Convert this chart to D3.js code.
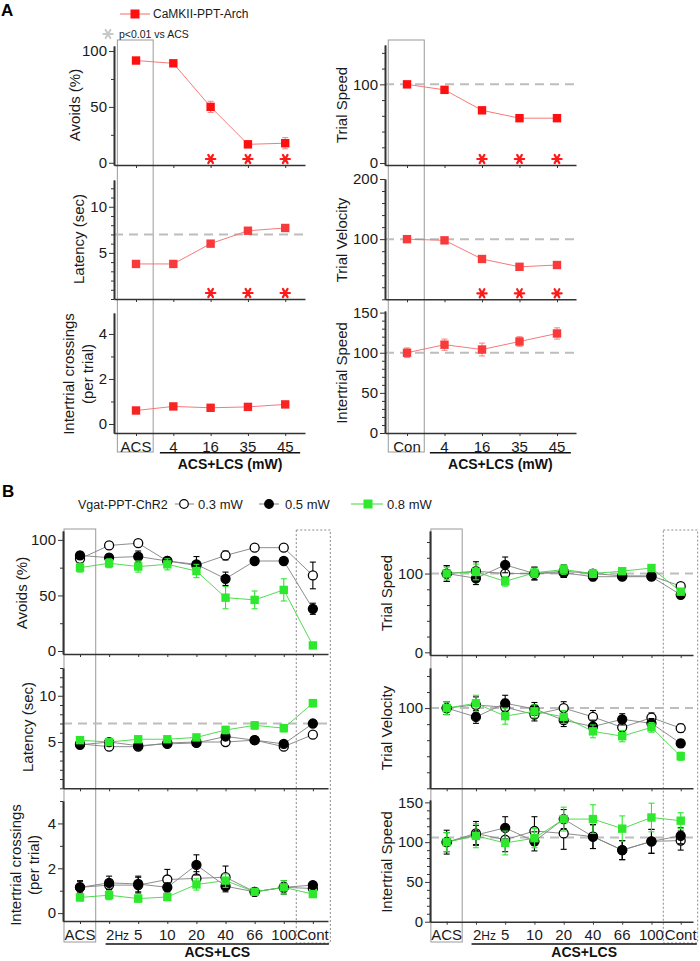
<!DOCTYPE html>
<html><head><meta charset="utf-8">
<script src="https://cdn.jsdelivr.net/npm/d3@7"></script>
<style>body{margin:0;background:#fff}</style>
</head><body>
<svg id="c" width="700" height="961"></svg>
<script>
// ---------------- DATA ----------------
const catsA = ["ACS", "4", "16", "35", "45"];
const catsAR = ["Con", "4", "16", "35", "45"];
const catsB = ["ACS", "2Hz", "5", "10", "20", "40", "66", "100", "Cont"];

// Panel A (CaMKII-PPT-Arch)
const avoidsA = [91.5, 89, 50, 16.5, 17.5];
const avoidsAErr = [2, 2, 5, 3, 5];
const latencyA = [3.8, 3.8, 6.0, 7.4, 7.7];
const latencyAErr = [0.2, 0.2, 0.3, 0.3, 0.3];
const crossA = [0.6, 0.78, 0.72, 0.76, 0.87];
const crossAErr = [0.08, 0.08, 0.08, 0.08, 0.1];
const tspeedA = [100, 93, 67, 57, 57];
const tspeedAErr = [2, 3, 3, 3, 3];
const tvelA = [100, 98, 67, 54, 57];
const tvelAErr = [2, 3, 3, 3, 3];
const ispeedA = [100, 110, 104, 114, 124];
const ispeedAErr = [6, 7, 8, 6, 7];
const sigA = [0, 0, 1, 1, 1];

// Panel B (Vgat-PPT-ChR2) : 0.3 mW, 0.5 mW, 0.8 mW
const avoidsB03 = [83, 95, 97, 81, 77, 86, 93, 93, 68];
const avoidsB03Err = [3, 3, 3, 3, 3, 4, 2, 2, 12];
const avoidsB05 = [86, 84, 85, 81, 78, 65, 81, 81, 38];
const avoidsB05Err = [3, 3, 5, 3, 7, 6, 3, 3, 5];
const avoidsB08 = [75, 79, 76, 78, 72, 48, 46, 55, 5];
const avoidsB08Err = [4, 4, 5, 5, 6, 10, 8, 10, 2];

const latencyB03 = [4.8, 4.5, 4.5, 4.9, 5.0, 5.0, 5.2, 4.5, 5.8];
const latencyB03Err = [0.2, 0.3, 0.3, 0.2, 0.2, 0.3, 0.2, 0.2, 0.3];
const latencyB05 = [4.7, 5.0, 4.6, 4.8, 4.9, 5.6, 5.2, 4.8, 7.0];
const latencyB05Err = [0.2, 0.3, 0.3, 0.2, 0.2, 0.3, 0.3, 0.2, 0.3];
const latencyB08 = [5.2, 5.0, 5.3, 5.3, 5.5, 6.3, 6.8, 6.5, 9.2];
const latencyB08Err = [0.2, 0.2, 0.3, 0.3, 0.3, 0.4, 0.4, 0.4, 0.4];

const crossB03 = [1.15, 1.25, 1.25, 1.5, 1.55, 1.6, 0.95, 1.15, 1.1];
const crossB03Err = [0.25, 0.2, 0.35, 0.45, 0.3, 0.5, 0.1, 0.3, 0.15];
const crossB05 = [1.15, 1.35, 1.3, 1.15, 2.15, 1.2, 0.95, 1.15, 1.25];
const crossB05Err = [0.3, 0.3, 0.35, 0.2, 0.45, 0.25, 0.1, 0.2, 0.15];
const crossB08 = [0.7, 0.8, 0.65, 0.72, 1.28, 1.45, 0.95, 1.15, 0.85];
const crossB08Err = [0.15, 0.2, 0.15, 0.15, 0.25, 0.3, 0.1, 0.3, 0.15];

const tspeedB03 = [100, 103, 100, 100, 103, 100, 97, 97, 84];
const tspeedB03Err = [10, 12, 10, 8, 8, 5, 5, 5, 4];
const tspeedB05 = [100, 94, 111, 100, 101, 96, 96, 96, 73];
const tspeedB05Err = [10, 8, 10, 8, 6, 5, 4, 4, 4];
const tspeedB08 = [100, 102, 90, 101, 105, 100, 103, 107, 77];
const tspeedB08Err = [8, 10, 6, 6, 6, 5, 4, 4, 4];

const tvelB03 = [100, 104, 101, 92, 100, 89, 76, 88, 75];
const tvelB03Err = [8, 10, 10, 8, 8, 8, 7, 6, 5];
const tvelB05 = [100, 89, 106, 99, 85, 77, 86, 81, 56];
const tvelB05Err = [8, 8, 10, 8, 8, 8, 7, 6, 5];
const tvelB08 = [100, 106, 90, 96, 89, 71, 65, 76, 40];
const tvelB08Err = [8, 10, 10, 8, 8, 8, 7, 6, 5];

const ispeedB03 = [100, 111, 103, 114, 111, 107, 90, 101, 102];
const ispeedB03Err = [15, 15, 15, 18, 20, 15, 12, 15, 12];
const ispeedB05 = [100, 109, 118, 101, 129, 107, 90, 101, 108];
const ispeedB05Err = [12, 12, 14, 12, 12, 15, 12, 15, 10];
const ispeedB08 = [100, 108, 99, 105, 129, 129, 117, 131, 127];
const ispeedB08Err = [12, 15, 15, 12, 15, 18, 16, 18, 10];

// ---------------- DRAWING ----------------
const FONT = 'Arial, "Liberation Sans", sans-serif';
const svg = d3.select("#c").attr("font-family", FONT);
const AX = "#333";

const RED = "#ff1010", RED_LINE = "#f56a6a", RED_ERR = "#f78a8a";
const GREEN = "#2ee82e", GREEN_LINE = "#3fd63f";
const GRAY_LINE = "#808080";

const xAL = d3.scaleLinear().domain([-0.59, 4.53]).range([114, 305]);
const xAR = d3.scaleLinear().domain([-0.587, 4.507]).range([385, 576]);
const xBL = d3.scaleLinear().domain([-0.584, 8.52]).range([63, 328]);
const xBR = d3.scaleLinear().domain([-0.57, 8.42]).range([430, 693]);

const starPath = d3.symbol().type(d3.symbolAsterisk).size(62)();

function drawStar(cx, cy, color, sw) {
  svg.append("path").attr("d", starPath)
    .attr("transform", `translate(${cx},${cy}) rotate(90)`)
    .attr("fill", "none").attr("stroke", color).attr("stroke-width", sw || 2.2)
    .attr("stroke-linecap", "round");
}

function styleAxis(sel, fs) {
  sel.attr("font-family", FONT).attr("font-size", fs || 15);
  sel.selectAll(".domain").attr("stroke", AX).attr("stroke-width", 1.6);
  sel.selectAll(".tick line").attr("stroke", AX).attr("stroke-width", 1);
  sel.selectAll(".tick text").attr("fill", "#1a1a1a");
}

function subplot(o) {
  const g = svg.append("g");
  const x = o.x;
  const y = d3.scaleLinear().domain(o.domain).range([o.bottom, o.top]);
  const [xl, xr] = x.range();
  const n = o.n;

  if (o.dash != null) {
    g.append("line").attr("x1", xl).attr("x2", xr)
      .attr("y1", y(o.dash)).attr("y2", y(o.dash))
      .attr("stroke", "#bdbdbd").attr("stroke-width", 2).attr("stroke-dasharray", "9,6");
  }
  const [d0, d1] = o.domain;
  const minors = d3.range(Math.ceil(d0 / o.minor - 1e-9) * o.minor, d1 + 1e-9, o.minor)
    .filter(v => !o.major.some(m => Math.abs(m - v) < 1e-9));
  const gmin = g.append("g").attr("transform", `translate(${xl},0)`)
    .call(d3.axisLeft(y).tickValues(minors).tickSize(3).tickSizeOuter(0).tickFormat(""));
  styleAxis(gmin);
  const gmaj = g.append("g").attr("transform", `translate(${xl},0)`)
    .call(d3.axisLeft(y).tickValues(o.major).tickSize(5).tickSizeOuter(0).tickPadding(2).tickFormat(d3.format("~g")));
  styleAxis(gmaj);
  const gx = g.append("g").attr("transform", `translate(0,${o.bottom})`)
    .call(d3.axisBottom(x).tickValues(d3.range(n)).tickSize(3).tickSizeOuter(0).tickFormat(""));
  styleAxis(gx);

  o.label.forEach((t, k) => {
    g.append("text")
      .attr("transform", `translate(${o.labelX[k]},${o.labelY}) rotate(-90)`)
      .attr("text-anchor", "middle").attr("dy", "0.35em")
      .attr("font-size", 15).attr("fill", "#1a1a1a").text(t);
  });

  o.series.forEach(s => {
    const pts = s.vals.map((v, i) => ({ i, v, e: s.errs[i] }));
    g.append("path").datum(pts)
      .attr("d", d3.line().x(d => x(d.i)).y(d => y(d.v)))
      .attr("fill", "none").attr("stroke", s.line).attr("stroke-width", 0.9);
    const eb = g.append("g").attr("stroke", s.err).attr("stroke-width", 1.1);
    pts.forEach(d => {
      eb.append("line").attr("x1", x(d.i)).attr("x2", x(d.i)).attr("y1", y(d.v - d.e)).attr("y2", y(d.v + d.e));
      [d.v - d.e, d.v + d.e].forEach(vv => {
        eb.append("line").attr("x1", x(d.i) - 3).attr("x2", x(d.i) + 3).attr("y1", y(vv)).attr("y2", y(vv));
      });
    });
    pts.forEach(d => {
      if (s.shape === "square") {
        g.append("rect").attr("x", x(d.i) - 4.2).attr("y", y(d.v) - 4.2)
          .attr("width", 8.4).attr("height", 8.4).attr("fill", s.fill);
      } else {
        g.append("circle").attr("cx", x(d.i)).attr("cy", y(d.v)).attr("r", 4.5)
          .attr("fill", s.fill).attr("stroke", "#000").attr("stroke-width", 1.3);
      }
    });
  });

  if (o.sig) {
    o.sig.forEach((s, i) => { if (s) drawStar(x(i), o.bottom - 6, "#ff1a1a"); });
  }
  return { g, y };
}

function box(x, i0, i1, top, bottom, dotted) {
  svg.append("rect").attr("x", x(i0)).attr("y", top)
    .attr("width", x(i1) - x(i0)).attr("height", bottom - top)
    .attr("fill", "none").attr("stroke", dotted ? "#8a8a8a" : "#9a9a9a")
    .attr("stroke-width", 1).attr("stroke-dasharray", dotted ? "2,2" : null);
}

function xLabels(x, cats, baseline, underline, title, ulFrom, ulTo, titleBaseline) {
  cats.forEach((c, i) => {
    if (c === "2Hz") {
      const t = svg.append("text").attr("x", x(i) - 3).attr("y", baseline)
        .attr("font-size", 15).attr("fill", "#1a1a1a");
      t.append("tspan").text("2");
      t.append("tspan").attr("font-size", 12).text("Hz");
    } else {
      svg.append("text").attr("x", x(i)).attr("y", baseline).attr("text-anchor", "middle")
        .attr("font-size", 15).attr("fill", "#1a1a1a").text(c);
    }
  });
  svg.append("line").attr("x1", x(ulFrom)).attr("x2", x(ulTo)).attr("y1", underline).attr("y2", underline)
    .attr("stroke", "#111").attr("stroke-width", 1.6);
  svg.append("text").attr("x", (x(ulFrom) + x(ulTo)) / 2).attr("y", titleBaseline)
    .attr("text-anchor", "middle").attr("font-size", 14).attr("font-weight", "bold")
    .attr("fill", "#111").text(title);
}

// ---------- Panel A ----------
const redSeries = (vals, errs, fill) => [{ vals, errs, shape: "square", fill: fill || RED, line: RED_LINE, err: RED_ERR }];

box(xAL, -0.5, 0.46, 40, 452, false);
box(xAR, -0.5, 0.46, 40, 452, false);

subplot({ x: xAL, n: 5, top: 46, bottom: 165, domain: [-2, 104.5], major: [0, 50, 100], minor: 25,
  label: ["Avoids (%)"], labelX: [75], labelY: 105, series: redSeries(avoidsA, avoidsAErr), sig: sigA });
subplot({ x: xAL, n: 5, top: 180, bottom: 299, domain: [0, 12.9], major: [5, 10], minor: 1, dash: 7,
  label: ["Latency (sec)"], labelX: [79], labelY: 239, series: redSeries(latencyA, latencyAErr, "#f83a3a"), sig: sigA });
subplot({ x: xAL, n: 5, top: 313, bottom: 433, domain: [-0.4, 4.93], major: [0, 2, 4], minor: 1,
  label: ["Intertrial crossings", "(per trial)"], labelX: [69, 88], labelY: 374, series: redSeries(crossA, crossAErr, "#f82424") });

subplot({ x: xAR, n: 5, top: 45, bottom: 165, domain: [-2.5, 150], major: [0, 100], minor: 20, dash: 100,
  label: ["Trial Speed"], labelX: [342], labelY: 105, series: redSeries(tspeedA, tspeedAErr), sig: sigA });
subplot({ x: xAR, n: 5, top: 179, bottom: 299.3, domain: [0, 200], major: [100, 200], minor: 20, dash: 100,
  label: ["Trial Velocity"], labelX: [342], labelY: 240, series: redSeries(tvelA, tvelAErr, "#f83a3a"), sig: sigA });
subplot({ x: xAR, n: 5, top: 311, bottom: 433, domain: [0, 152], major: [0, 50, 100, 150], minor: 10, dash: 100,
  label: ["Intertrial Speed"], labelX: [342], labelY: 373, series: redSeries(ispeedA, ispeedAErr, "#f83a3a") });

xLabels(xAL, catsA, 451.5, 452.7, "ACS+LCS (mW)", 0.64, 4.4, 469);
xLabels(xAR, catsAR, 451.5, 452.7, "ACS+LCS (mW)", 0.61, 4.37, 469);

// Panel A legend
svg.append("text").attr("x", 1).attr("y", 16).attr("font-size", 17).attr("font-weight", "bold").text("A");
svg.append("line").attr("x1", 120).attr("x2", 150).attr("y1", 14).attr("y2", 14).attr("stroke", RED_LINE).attr("stroke-width", 1);
svg.append("rect").attr("x", 130.5).attr("y", 9.5).attr("width", 9).attr("height", 9).attr("fill", RED);
svg.append("text").attr("x", 153).attr("y", 18.2).attr("font-size", 12).attr("fill", "#1a1a1a").text("CaMKII-PPT-Arch");
drawStar(108, 34, "#c8c8c8", 2.0);
svg.append("text").attr("x", 119).attr("y", 37.5).attr("font-size", 10.5).attr("fill", "#1a1a1a").text("p<0.01 vs ACS");

// ---------- Panel B ----------
const bSeries = (a03, e03, a05, e05, a08, e08) => [
  { vals: a03, errs: e03, shape: "circle", fill: "#fff", line: GRAY_LINE, err: "#000" },
  { vals: a05, errs: e05, shape: "circle", fill: "#000", line: GRAY_LINE, err: "#000" },
  { vals: a08, errs: e08, shape: "square", fill: GREEN, line: GREEN_LINE, err: GREEN }
];

box(xBL, -0.55, 0.54, 529, 942, false);
box(xBL, 7.43, 8.6, 530, 943, true);
box(xBR, -0.54, 0.53, 529, 942, false);
box(xBR, 7.405, 8.58, 530, 943, true);

subplot({ x: xBL, n: 9, top: 531, bottom: 654, domain: [-2.7, 108], major: [0, 50, 100], minor: 25,
  label: ["Avoids (%)"], labelX: [22], labelY: 593,
  series: bSeries(avoidsB03, avoidsB03Err, avoidsB05, avoidsB05Err, avoidsB08, avoidsB08Err) });
subplot({ x: xBL, n: 9, top: 668, bottom: 788.3, domain: [0, 13], major: [5, 10], minor: 1, dash: 7,
  label: ["Latency (sec)"], labelX: [28], labelY: 727,
  series: bSeries(latencyB03, latencyB03Err, latencyB05, latencyB05Err, latencyB08, latencyB08Err) });
subplot({ x: xBL, n: 9, top: 801, bottom: 921, domain: [-0.35, 5.0], major: [0, 2, 4], minor: 1,
  label: ["Intertrial crossings", "(per trial)"], labelX: [16, 34], labelY: 865,
  series: bSeries(crossB03, crossB03Err, crossB05, crossB05Err, crossB08, crossB08Err) });

subplot({ x: xBR, n: 9, top: 531, bottom: 655, domain: [-3.4, 154], major: [0, 100], minor: 20, dash: 100,
  label: ["Trial Speed"], labelX: [387], labelY: 593,
  series: bSeries(tspeedB03, tspeedB03Err, tspeedB05, tspeedB05Err, tspeedB08, tspeedB08Err) });
subplot({ x: xBR, n: 9, top: 668, bottom: 788.3, domain: [0, 150], major: [100], minor: 20, dash: 100,
  label: ["Trial Velocity"], labelX: [387], labelY: 728,
  series: bSeries(tvelB03, tvelB03Err, tvelB05, tvelB05Err, tvelB08, tvelB08Err) });
subplot({ x: xBR, n: 9, top: 800, bottom: 921.7, domain: [0, 153], major: [0, 50, 100, 150], minor: 10, dash: 106,
  label: ["Intertrial Speed"], labelX: [387], labelY: 862,
  series: bSeries(ispeedB03, ispeedB03Err, ispeedB05, ispeedB05Err, ispeedB08, ispeedB08Err) });

xLabels(xBL, catsB, 939.5, 944, "ACS+LCS", 0.88, 8.55, 957);
xLabels(xBR, catsB, 939.5, 944, "ACS+LCS", 0.85, 8.55, 957);

// Panel B legend
svg.append("text").attr("x", 2).attr("y", 497).attr("font-size", 17).attr("font-weight", "bold").text("B");
svg.append("text").attr("x", 78).attr("y", 508.5).attr("font-size", 12.5).attr("fill", "#1a1a1a").text("Vgat-PPT-ChR2");
const legB = [
  { x0: 175, x1: 194, cx: 184, tx: 198, shape: "circle", fill: "#fff", line: GRAY_LINE, label: "0.3 mW" },
  { x0: 259, x1: 279, cx: 269, tx: 285, shape: "circle", fill: "#000", line: GRAY_LINE, label: "0.5 mW" },
  { x0: 351, x1: 383, cx: 368, tx: 387, shape: "square", fill: GREEN, line: GREEN_LINE, label: "0.8 mW" }
];
legB.forEach(l => {
  svg.append("line").attr("x1", l.x0).attr("x2", l.x1).attr("y1", 504).attr("y2", 504).attr("stroke", l.line).attr("stroke-width", 1);
  if (l.shape === "circle") svg.append("circle").attr("cx", l.cx).attr("cy", 504).attr("r", 4.3).attr("fill", l.fill).attr("stroke", "#000").attr("stroke-width", 1.2);
  else svg.append("rect").attr("x", l.cx - 4.5).attr("y", 499.5).attr("width", 9).attr("height", 9).attr("fill", l.fill);
  svg.append("text").attr("x", l.tx).attr("y", 508.5).attr("font-size", 13).attr("fill", "#1a1a1a").text(l.label);
});
</script>
</body></html>
